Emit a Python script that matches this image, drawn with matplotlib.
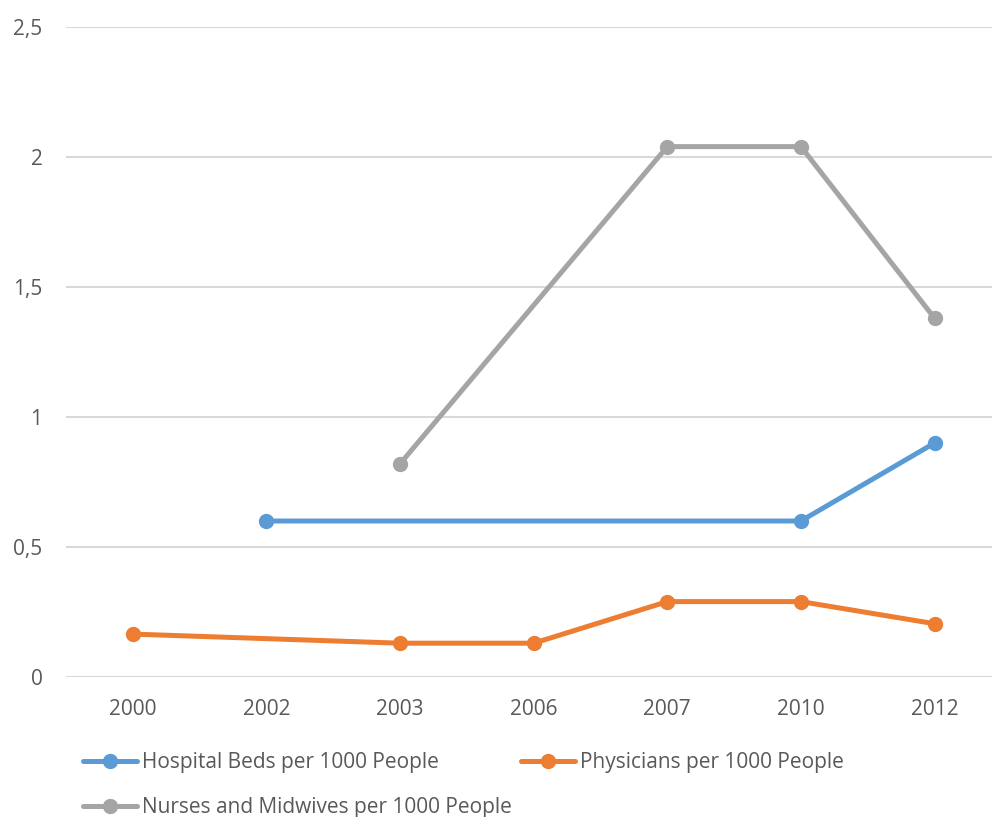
import numpy as np
import matplotlib
matplotlib.use("Agg")
import matplotlib.pyplot as plt
from matplotlib.ticker import FuncFormatter

plt.rcParams['font.family'] = ['Open Sans', 'DejaVu Sans']

years = ["2000", "2002", "2003", "2006", "2007", "2010", "2012"]
hospital_beds = [None, 0.6, None, None, None, 0.6, 0.9]
physicians = [0.165, None, 0.13, 0.13, 0.29, 0.29, 0.205]
nurses = [None, None, 0.82, None, 2.04, 2.04, 1.38]

series = [
    ("Hospital Beds per 1000 People", hospital_beds, "#5B9BD5"),
    ("Physicians per 1000 People", physicians, "#ED7D31"),
    ("Nurses and Midwives per 1000 People", nurses, "#A5A5A5"),
]

fig = plt.figure(figsize=(9.92, 8.17), dpi=100)
ax = fig.add_axes([66 / 992, (817 - 677) / 817, 1 - 66 / 992, (677 - 27) / 817])

x = np.arange(len(years))
handles = []
for name, vals, color in series:
    xs = [i for i, v in zip(x, vals) if v is not None]
    ys = [v for v in vals if v is not None]
    h, = ax.plot(xs, ys, color=color, lw=3.6, marker='o', markersize=10,
                 solid_capstyle='round', label=name, clip_on=False)
    handles.append(h)

ax.set_xlim(-0.5, 6.43)
ax.set_ylim(0, 2.5)
ax.set_yticks([0, 0.5, 1, 1.5, 2, 2.5])
ax.yaxis.set_major_formatter(FuncFormatter(lambda v, p: f"{v:g}".replace(".", ",")))
ax.set_xticks(x)
ax.set_xticklabels(years)
ax.grid(axis='y', color='#D9D9D9', lw=1.5)
ax.set_axisbelow(True)
for s in ax.spines.values():
    s.set_visible(False)
ax.tick_params(axis='both', length=0, labelsize=15, labelcolor='#595959')
ax.tick_params(axis='y', pad=17)
ax.tick_params(axis='x', pad=16)

# matplotlib fills legend columns first, so reorder to get row-major like the original
leg_order = [handles[0], handles[2], handles[1]]
fig.legend(handles=leg_order, loc='upper left', bbox_to_anchor=(83 / 992, 1 - 752 / 817),
           ncol=2, frameon=False, fontsize=15, handlelength=2.6, handletextpad=0.25,
           columnspacing=0.4, labelcolor='#595959', borderaxespad=0, borderpad=0,
           labelspacing=1.15)

fig.savefig("out.png", dpi=100)
